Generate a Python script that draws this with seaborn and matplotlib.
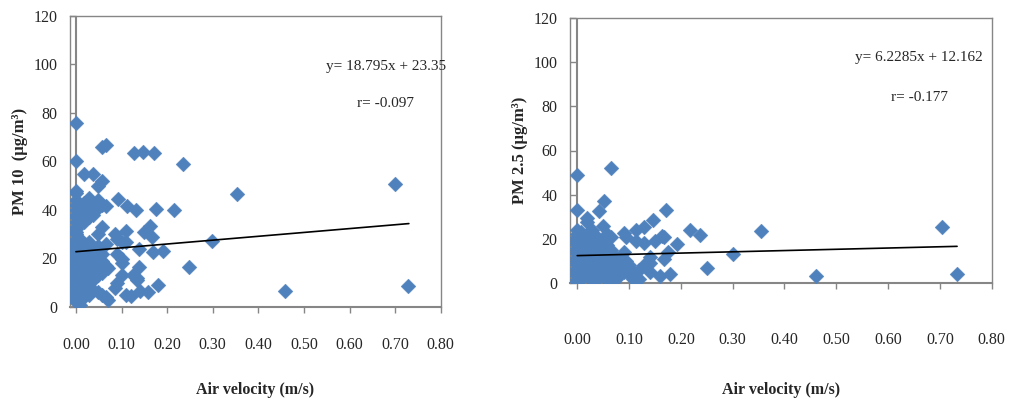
import pandas as pd
import seaborn as sns
import matplotlib.pyplot as plt

# PM10 vs air velocity (left panel)
pm10_x = [0.0] * 41 + [0.008] * 12 + [0.018] * 11 + [0.028] * 10 + [0.038] * 8 \
    + [0.048] * 9 + [0.058] * 8 + [0.065] * 5 + [0.07] * 2 + [0.085] * 2 + [0.09] * 3 \
    + [0.093, 0.1, 0.1, 0.1, 0.1, 0.11, 0.11, 0.11, 0.113, 0.12, 0.125, 0.128, 0.131,
       0.135, 0.135, 0.139, 0.139, 0.141, 0.147, 0.15, 0.158, 0.162, 0.166, 0.168,
       0.171, 0.175, 0.179, 0.191, 0.215, 0.235, 0.248, 0.299, 0.353, 0.458, 0.699, 0.728]
pm10_y = [76, 60, 48, 47, 44, 42, 40, 38, 37, 35, 33, 32, 31, 30, 28, 27, 26, 25, 24, 23,
          22, 21, 20, 19, 18, 17, 16, 15, 14, 13, 12, 11, 10, 9, 8, 7, 6, 5, 4, 3, 2] \
    + [1, 3, 5, 8, 11, 14, 17, 20, 24, 28, 36, 39] \
    + [55, 43, 35, 26, 22, 18, 15, 12, 9, 6, 4] \
    + [45, 40, 37, 27, 24, 20, 16, 13, 10, 5] \
    + [55, 42, 38, 23, 19, 14, 11, 7] \
    + [50, 44, 41, 30, 25, 21, 17, 13, 6] \
    + [52, 42, 33, 22, 19, 14, 5, 66] \
    + [67, 41.5, 26, 17, 4] \
    + [3, 16] + [8, 30] + [10, 28, 22] \
    + [44.5, 27, 18, 13, 20, 31.5, 27, 5, 41.8, 4.5, 13, 63.6, 39.8,
       12, 11, 16.6, 24, 6.4, 63.9, 31, 6, 33.5, 28.8, 22.6,
       63.6, 40.3, 9.1, 22.9, 39.9, 58.8, 16.5, 27.3, 46.5, 6.6, 50.9, 8.5]

# PM2.5 vs air velocity (right panel)
pm25_x = [0.0] * 26 + [0.008] * 8 + [0.018] * 9 + [0.028] * 8 + [0.038] * 7 + [0.043] \
    + [0.049] * 7 + [0.052] + [0.058] * 7 + [0.065] * 5 + [0.072] * 4 + [0.08] * 3 \
    + [0.09] * 3 + [0.095] * 3 + [0.1] * 2 + [0.108] * 2 + [0.113] * 2 + [0.12] * 2 \
    + [0.129] * 3 + [0.14] * 3 \
    + [0.147, 0.15, 0.16, 0.163, 0.168, 0.168, 0.171, 0.175, 0.179, 0.192, 0.217,
       0.237, 0.25, 0.3, 0.355, 0.461, 0.703, 0.733]
pm25_y = [48.8, 33.2, 24, 22, 21, 20, 19, 18, 17, 16, 15, 14, 13, 12, 11, 10, 9, 8, 7,
          6, 5, 4, 3, 2, 1, 0.5] \
    + [23, 20, 17, 14, 11, 8, 5, 2] \
    + [29.4, 27.5, 22, 18, 15, 12, 9, 6, 3] \
    + [24, 20, 16, 13, 10, 7, 4, 1.5] \
    + [21, 18, 14, 11, 8, 5, 2] + [32.8] \
    + [25.7, 19, 15, 12, 9, 6, 3] + [37] \
    + [22, 17, 13, 10, 7, 4, 1.5] \
    + [52.1, 21, 15, 11, 8] + [12, 8, 4, 2] + [9, 6, 3] \
    + [22.6, 14, 5] + [21, 10, 7] + [8, 4] + [5, 2] + [23.8, 19] + [2, 6] \
    + [25.4, 18, 8] + [12, 5, 9] \
    + [28.7, 19, 3, 21.4, 10.9, 21, 33.2, 14, 4.1, 17.7, 23.8,
       21.9, 6.8, 13.3, 23.4, 3.3, 25.4, 4.1]

# trend lines as drawn
pm10_fit_x = [0.0, 0.73]
pm10_fit_y = [22.8, 34.4]
pm25_fit_x = [0.0, 0.733]
pm25_fit_y = [12.4, 16.6]

x_ticks = [0.0, 0.1, 0.2, 0.3, 0.4, 0.5, 0.6, 0.7, 0.8]
y_ticks = [0, 20, 40, 60, 80, 100, 120]

sns.set_style("white")
plt.rcParams['font.family'] = ['Liberation Serif', 'DejaVu Serif']

fig = plt.figure(figsize=(10.11, 4.0), dpi=100)
ax1 = fig.add_axes([0.069, 0.2325, 0.367, 0.7275])
ax2 = fig.add_axes([0.564, 0.2925, 0.417, 0.6625])

blue = '#4F81BD'
grey = '#868686'


def draw_panel(ax, xs, ys, fx, fy, ylabel, eq, r, eq_xy, r_xy, xpad, xlpad, ylpad):
    df = pd.DataFrame({"v": xs, "pm": ys})
    sns.scatterplot(data=df, x="v", y="pm", ax=ax, marker="D", s=58,
                    color=blue, edgecolor=blue, linewidth=0.2, zorder=3)
    ax.plot(fx, fy, color='black', lw=1.2, zorder=4)
    ax.set_xlim(-0.0135, 0.8)
    ax.set_ylim(0, 120)
    ax.axvline(0, color=grey, lw=1.5, zorder=2)
    for s in ax.spines.values():
        s.set_color(grey)
        s.set_linewidth(1.0)
    ax.spines['bottom'].set_linewidth(1.5)
    ax.set_xticks(x_ticks)
    ax.set_xticklabels(["%.2f" % t for t in x_ticks])
    ax.set_yticks(y_ticks)
    ax.tick_params(axis='x', direction='out', length=4.5, width=1, color=grey,
                   pad=xpad, labelsize=11.5, bottom=True)
    ax.tick_params(axis='y', direction='in', length=4.5, width=1, color=grey,
                   pad=9, labelsize=11.5, left=True)
    ax.set_xlabel("Air velocity (m/s)", fontsize=11.5, fontweight='bold', labelpad=xlpad)
    ax.set_ylabel(ylabel, fontsize=12, fontweight='bold', labelpad=ylpad)
    ax.text(eq_xy[0], eq_xy[1], eq, fontsize=11, ha='center', va='center')
    ax.text(r_xy[0], r_xy[1], r, fontsize=11, ha='center', va='center')


draw_panel(ax1, pm10_x, pm10_y, pm10_fit_x, pm10_fit_y,
           "PM 10  (\u03bcg/m\u00b3)", "y= 18.795x + 23.35", "r= -0.097",
           (0.68, 99), (0.678, 84), 17, 21, 4)
draw_panel(ax2, pm25_x, pm25_y, pm25_fit_x, pm25_fit_y,
           "PM 2.5 (\u03bcg/m\u00b3)", "y= 6.2285x + 12.162", "r= -0.177",
           (0.66, 102), (0.66, 84), 31, 24, 4)

fig.savefig("out.png", dpi=100)
